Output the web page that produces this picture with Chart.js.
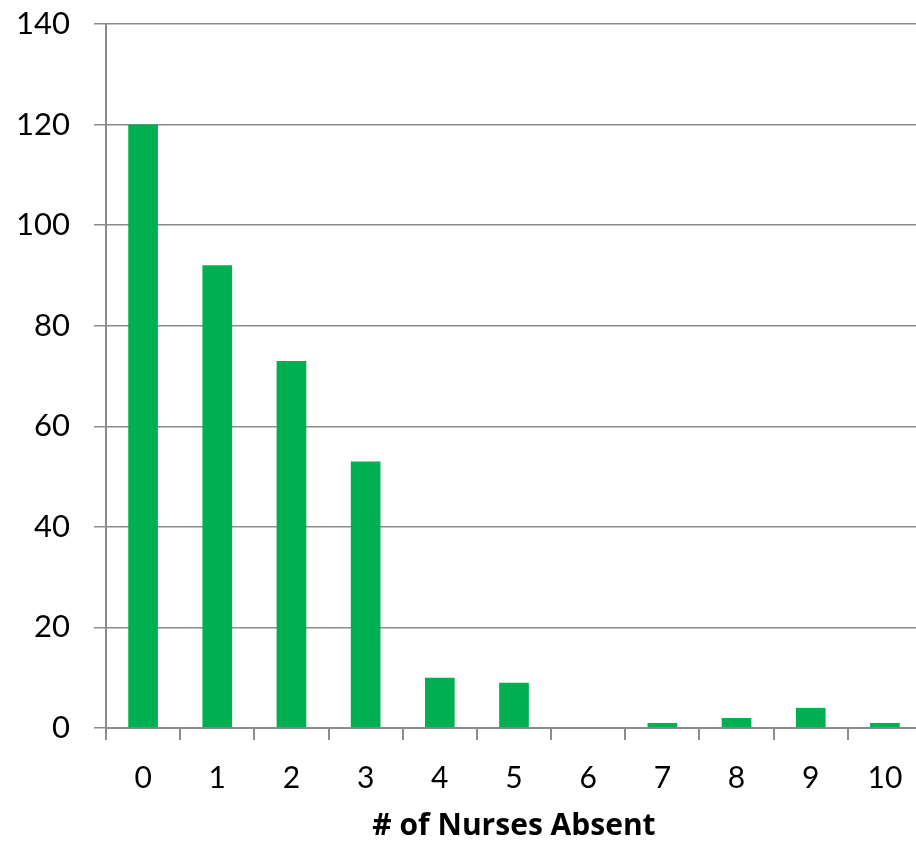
<!DOCTYPE html>
<html>
<head>
<meta charset="utf-8">
<script src="https://cdn.jsdelivr.net/npm/chart.js@4"></script>
<style>
  html, body { margin: 0; padding: 0; background: #fff; overflow: hidden; }
  #wrap { width: 930px; height: 844px; }
</style>
</head>
<body>
<div id="wrap"><canvas id="absentChart" width="930" height="844"></canvas></div>
<script>
const categories = ["0", "1", "2", "3", "4", "5", "6", "7", "8", "9", "10"];
const counts = [120, 92, 73, 53, 10, 9, 0, 1, 2, 4, 1];
const yTicks = [0, 20, 40, 60, 80, 100, 120, 140];

const ctx = document.getElementById("absentChart").getContext("2d");

const chart = new Chart(ctx, {
    type: "bar",
    data: {
        labels: categories,
        datasets: [
            {
                label: "Frequency",
                data: counts,
                backgroundColor: "#00b050",
                borderWidth: 0,
                categoryPercentage: 1,
                barPercentage: 0.4,
            },
        ],
    },
    options: {
        responsive: false,
        animation: false,
        layout: {
            padding: { top: 24, right: 8, left: 0, bottom: 0 },
        },
        plugins: {
            legend: { display: false },
            tooltip: { enabled: false },
        },
        scales: {
            x: {
                grid: {
                    offset: true,
                    drawOnChartArea: false,
                    drawTicks: true,
                    tickLength: 12,
                    color: "#8c8c8c",
                    lineWidth: 2,
                },
                border: { color: "#8c8c8c", width: 2 },
                ticks: {
                    color: "#000",
                    padding: 20,
                    maxRotation: 0,
                    font: { family: "Lato", size: 30 },
                },
                title: {
                    display: true,
                    text: "# of Nurses Absent",
                    color: "#000",
                    font: { family: "Open Sans", size: 30, weight: "bold" },
                    padding: { top: 0, bottom: 0 },
                },
                afterFit: function (scale) {
                    scale.height = 116;
                    scale.paddingLeft = 0;
                    scale.paddingRight = 0;
                },
            },
            y: {
                min: 0,
                max: 140,
                afterBuildTicks: function (scale) {
                    scale.ticks = yTicks.map((v) => ({ value: v }));
                },
                grid: {
                    color: "#8c8c8c",
                    lineWidth: 1.5,
                    tickLength: 12,
                },
                border: { color: "#8c8c8c", width: 2 },
                ticks: {
                    color: "#000",
                    padding: 24,
                    font: { family: "Lato", size: 31 },
                },
                afterFit: function (scale) {
                    scale.width = 106;
                    scale.paddingTop = 0;
                    scale.paddingBottom = 0;
                },
            },
        },
    },
});
</script>
</body>
</html>
